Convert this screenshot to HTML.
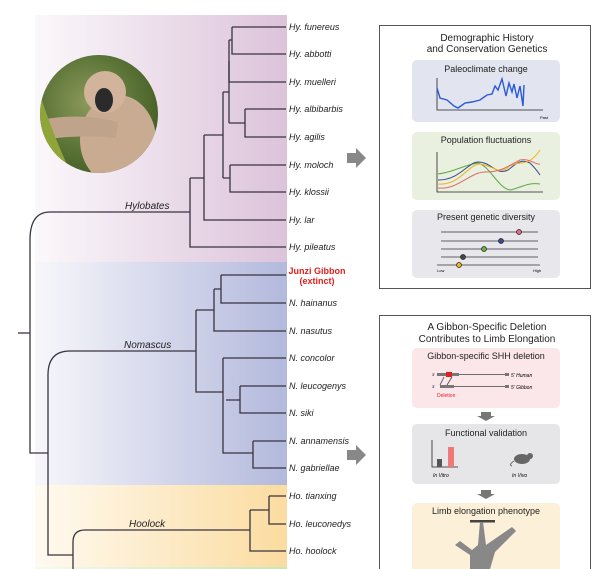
<!DOCTYPE html>
<html><head><meta charset="utf-8"><style>
html,body{margin:0;padding:0;background:#fff;width:600px;height:569px;overflow:hidden}
text{font-family:"Liberation Sans",sans-serif}
</style></head><body>
<svg width="600" height="569" viewBox="0 0 600 569" xmlns="http://www.w3.org/2000/svg">
<defs>
<linearGradient id="gp" x1="0" x2="1"><stop offset="0" stop-color="#fbf8fb"/><stop offset="1" stop-color="#dcc3da"/></linearGradient>
<linearGradient id="gb" x1="0" x2="1"><stop offset="0" stop-color="#f7f7fb"/><stop offset="1" stop-color="#b3b9dc"/></linearGradient>
<linearGradient id="gy" x1="0" x2="1"><stop offset="0" stop-color="#fffaf0"/><stop offset="1" stop-color="#fbdca0"/></linearGradient>
<linearGradient id="gg" x1="0" x2="1"><stop offset="0" stop-color="#f4faf0"/><stop offset="1" stop-color="#c7e6b8"/></linearGradient>
<radialGradient id="ph" cx="0.4" cy="0.4" r="0.7"><stop offset="0" stop-color="#8a9a5a"/><stop offset="0.6" stop-color="#5a7236"/><stop offset="1" stop-color="#3e5a22"/></radialGradient>
<clipPath id="cc"><circle cx="99" cy="114" r="59"/></clipPath>
</defs>
<rect x="35" y="15" width="252" height="247" fill="url(#gp)"/>
<rect x="35" y="262" width="252" height="223" fill="url(#gb)"/>
<rect x="35" y="485" width="252" height="82" fill="url(#gy)"/>
<rect x="35" y="567" width="252" height="2" fill="url(#gg)"/>
<!-- photo -->
<circle cx="99" cy="114" r="59" fill="url(#ph)"/>
<g clip-path="url(#cc)">
<ellipse cx="118" cy="140" rx="38" ry="45" fill="#c9ab92"/>
<ellipse cx="105" cy="92" rx="21" ry="21" fill="#d2b49c"/>
<ellipse cx="104" cy="100" rx="9" ry="12" fill="#2b2b2b"/>
<path d="M40 120 Q80 112 118 122 L116 138 Q80 134 42 140Z" fill="#bfa38a"/>
<path d="M40 95 Q55 140 72 175 L58 175 Q42 140 38 110Z" fill="#8fa53a"/>
</g>
<g fill="none" stroke="#3a3340" stroke-width="1.3">
<path d="M232 27H286M232 27V54H286M232 40H229M229 40V82H286"/>
<path d="M245 109H286M245 109V137H286M245 123H229"/>
<path d="M230 165H286M230 165V192H286M230 178H223M229 61V123M223 92V178M223 92H229"/>
<path d="M204 135H223M204 135V220H286M190 178H204M190 178V247H286"/>
<path d="M190 212H50Q30 212 30 240V453H48"/>
<path d="M18 333H30"/>
<path d="M221 275H286M221 275V303H286M221 289H214M214 289V331H286M196 310H214"/>
<path d="M223 358H286M223 358V453H253M240 386H286M240 386V413H286M240 400H226M253 441H286M253 441V468H286"/>
<path d="M196 310V392H223M196 351H70Q48 351 48 375V555H73"/>
<path d="M269 496H286M269 496V524H286M269 510H250M250 510V551H286M250 530H85Q73 530 73 542V569"/>
</g>
<g font-size="9" font-style="italic" fill="#222">
<text x="289" y="30">Hy. funereus</text><text x="289" y="57">Hy. abbotti</text><text x="289" y="85">Hy. muelleri</text>
<text x="289" y="112">Hy. albibarbis</text><text x="289" y="140">Hy. agilis</text><text x="289" y="168">Hy. moloch</text>
<text x="289" y="195">Hy. klossii</text><text x="289" y="223">Hy. lar</text><text x="289" y="250">Hy. pileatus</text>
<text x="289" y="306">N. hainanus</text><text x="289" y="334">N. nasutus</text><text x="289" y="361">N. concolor</text>
<text x="289" y="389">N. leucogenys</text><text x="289" y="416">N. siki</text><text x="289" y="444">N. annamensis</text>
<text x="289" y="471">N. gabriellae</text><text x="289" y="499">Ho. tianxing</text><text x="289" y="527">Ho. leuconedys</text>
<text x="289" y="554">Ho. hoolock</text>
<text x="125" y="209" font-size="10">Hylobates</text><text x="124" y="348" font-size="10">Nomascus</text><text x="129" y="527" font-size="10">Hoolock</text>
</g>
<text x="317" y="274" font-size="9" font-weight="bold" fill="#e0201c" text-anchor="middle">Junzi Gibbon</text>
<text x="317" y="284" font-size="9" font-weight="bold" fill="#e0201c" text-anchor="middle">(extinct)</text>
<path d="M347 153H356V148L366 158L356 168V163H347Z" fill="#888"/>
<path d="M347 450H356V445L366 455L356 465V460H347Z" fill="#888"/>
<rect x="379.5" y="25.5" width="211" height="263" fill="#fff" stroke="#555"/>
<text x="487" y="41" font-size="10" text-anchor="middle" fill="#222">Demographic History</text>
<text x="487" y="52" font-size="10" text-anchor="middle" fill="#222">and Conservation Genetics</text>
<rect x="412" y="60" width="148" height="62" rx="5" fill="#e2e4ef"/>
<text x="486" y="72" font-size="9" text-anchor="middle" fill="#222">Paleoclimate change</text>
<path d="M437 78V110H543" fill="none" stroke="#222" stroke-width="0.8"/>
<path d="M437 88L440 98L447 100L454 106L458 108L465 103L472 102L480 100L487 95L492 94L495 86L498 90L502 79L506 96L509 83L512 92L514 84L517 98L520 86L523 106L524 85" fill="none" stroke="#2a5ad8" stroke-width="1.4"/>
<text x="540" y="119" font-size="4">Past</text>
<rect x="412" y="132" width="148" height="68" rx="5" fill="#e9f0e0"/>
<text x="486" y="143" font-size="9" text-anchor="middle" fill="#222">Population fluctuations</text>
<path d="M437 152V192H543" fill="none" stroke="#222" stroke-width="0.8"/>
<g fill="none" stroke-width="1">
<path d="M438 174C455 172 460 166 478 163C490 166 498 188 510 190C520 188 528 182 540 184" stroke="#5aaa40"/>
<path d="M438 180C460 180 468 162 478 162C492 162 496 176 508 170C515 165 520 158 530 163C535 168 538 172 540 175" stroke="#3a4a8a"/>
<path d="M438 184C460 186 468 164 480 164C495 166 498 176 510 166C520 160 528 168 540 150" stroke="#f0b020"/>
<path d="M438 188C458 190 470 172 485 172C500 172 505 168 520 160C530 158 535 165 540 164" stroke="#e06a6a"/>
</g>
<rect x="412" y="210" width="148" height="68" rx="5" fill="#e8e8ec"/>
<text x="486" y="220" font-size="9" text-anchor="middle" fill="#222">Present genetic diversity</text>
<g stroke="#333" stroke-width="0.8"><path d="M441 232H538M441 241H538M441 249H538M441 257H538M437 265H540"/></g>
<g stroke="#222" stroke-width="0.7"><circle cx="519" cy="232" r="2.5" fill="#e26a8a"/><circle cx="501" cy="241" r="2.5" fill="#3a4a9a"/><circle cx="484" cy="249" r="2.5" fill="#6ab040"/><circle cx="463" cy="257" r="2.5" fill="#444"/><circle cx="459" cy="265" r="2.5" fill="#f0b020"/></g>
<text x="437" y="272" font-size="4">Low</text><text x="533" y="272" font-size="4">High</text>
<rect x="379.5" y="315.5" width="211" height="260" fill="#fff" stroke="#555"/>
<text x="487" y="330" font-size="10" text-anchor="middle" fill="#222">A Gibbon-Specific Deletion</text>
<text x="487" y="342" font-size="10" text-anchor="middle" fill="#222">Contributes to Limb Elongation</text>
<rect x="412" y="348" width="148" height="60" rx="5" fill="#fbe6ea"/>
<text x="486" y="359" font-size="9" text-anchor="middle" fill="#222">Gibbon-specific SHH deletion</text>
<rect x="437" y="373" width="22" height="3" fill="#777"/><rect x="446" y="372" width="6" height="5" fill="#e02020"/>
<path d="M459 374.5H505M444 377L440 385M452 377L447 385" stroke="#444" stroke-width="0.8" fill="none"/>
<rect x="440" y="385" width="14" height="3" fill="#777"/><path d="M454 386.5H505" stroke="#444" stroke-width="0.8"/>
<rect x="505" y="373" width="4" height="3" fill="#777"/><rect x="505" y="385" width="4" height="3" fill="#777"/>
<text x="432" y="376" font-size="4">3'</text><text x="432" y="388" font-size="4">3'</text>
<text x="511" y="377" font-size="5" font-style="italic">5' Human</text><text x="511" y="389" font-size="5" font-style="italic">5' Gibbon</text>
<text x="437" y="397" font-size="5" fill="#e02020">Deletion</text>
<path d="M481 412H491V416H495L486 421L477 416H481Z" fill="#777"/>
<rect x="412" y="424" width="148" height="60" rx="5" fill="#e6e6e8"/>
<text x="486" y="436" font-size="9" text-anchor="middle" fill="#222">Functional validation</text>
<path d="M432 440V467H458" fill="none" stroke="#222" stroke-width="0.8"/>
<rect x="437" y="459" width="5" height="8" fill="#555"/><rect x="448" y="447" width="6" height="20" fill="#f07878"/>
<text x="433" y="477" font-size="5" font-style="italic">In Vitro</text><text x="512" y="477" font-size="5" font-style="italic">In Vivo</text>
<ellipse cx="522" cy="459" rx="8" ry="5" fill="#666"/><circle cx="530" cy="456" r="3" fill="#666"/><path d="M514 461Q508 465 512 466" stroke="#666" fill="none"/>
<path d="M481 490H491V494H495L486 499L477 494H481Z" fill="#777"/>
<rect x="412" y="503" width="148" height="70" rx="5" fill="#fcf0d8"/>
<text x="486" y="514" font-size="9" text-anchor="middle" fill="#222">Limb elongation phenotype</text>
<rect x="470" y="520" width="25" height="2.5" fill="#444"/>
<path d="M480 522L483 522L486 545L512 527L516 531L495 552L490 569H470L470 555L455 545L460 541L472 550L478 545Z" fill="#888"/>
</svg>
</body></html>
